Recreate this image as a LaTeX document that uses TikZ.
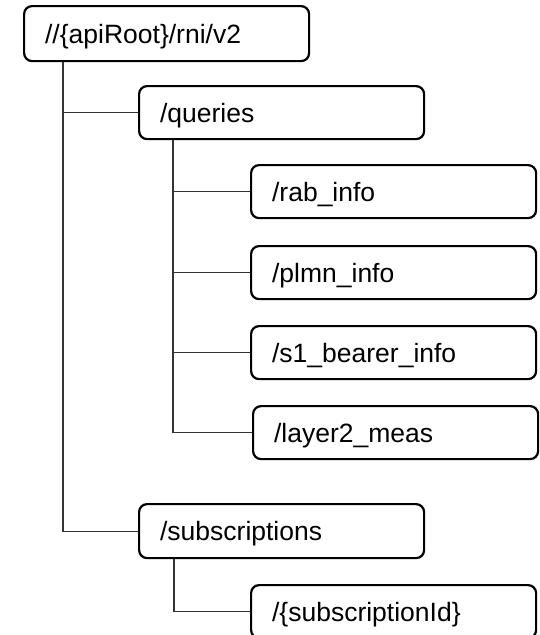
\documentclass[tikz,border=0pt]{standalone}
\usepackage{fontspec}
\setmainfont{Liberation Sans}
\begin{document}
\begin{tikzpicture}[x=1pt,y=-1pt,
  res/.style={draw=black, line width=2.2pt, rounded corners=8pt, anchor=north west,
    minimum width=285pt, minimum height=53pt, text width=243pt, inner xsep=21pt,
    inner ysep=0pt, text height=19pt, text depth=0pt, align=left,
    font=\fontsize{26.5}{30}\selectfont},
  link/.style={draw=black!80, line width=1.2pt}]
\useasboundingbox (0,0) rectangle (539,635);

% resource boxes
\node[res, minimum height=55pt] (root) at (23,5) {//\{apiRoot\}/rni/v2};
\node[res] (queries) at (138,85) {/queries};
\node[res] (rab) at (250,164) {/rab\_info};
\node[res] (plmn) at (250,245) {/plmn\_info};
\node[res] (s1) at (250,325) {/s1\_bearer\_info};
\node[res] (layer2) at (252,405) {/layer2\_meas};
\node[res, minimum height=54pt] (subs) at (138,503) {/subscriptions};
\node[res] (subid) at (250,584) {/\{subscriptionId\}};

% tree connectors
\draw[link] ([xshift=40pt]root.south west) |- (queries.west);
\draw[link] ([xshift=40pt]root.south west) |- (subs.west);
\draw[link] ([xshift=35pt]queries.south west) |- (rab.west);
\draw[link] ([xshift=35pt]queries.south west) |- (plmn.west);
\draw[link] ([xshift=35pt]queries.south west) |- (s1.west);
\draw[link] ([xshift=35pt]queries.south west) |- (layer2.west);
\draw[link] ([xshift=36pt]subs.south west) |- (subid.west);
\end{tikzpicture}
\end{document}
